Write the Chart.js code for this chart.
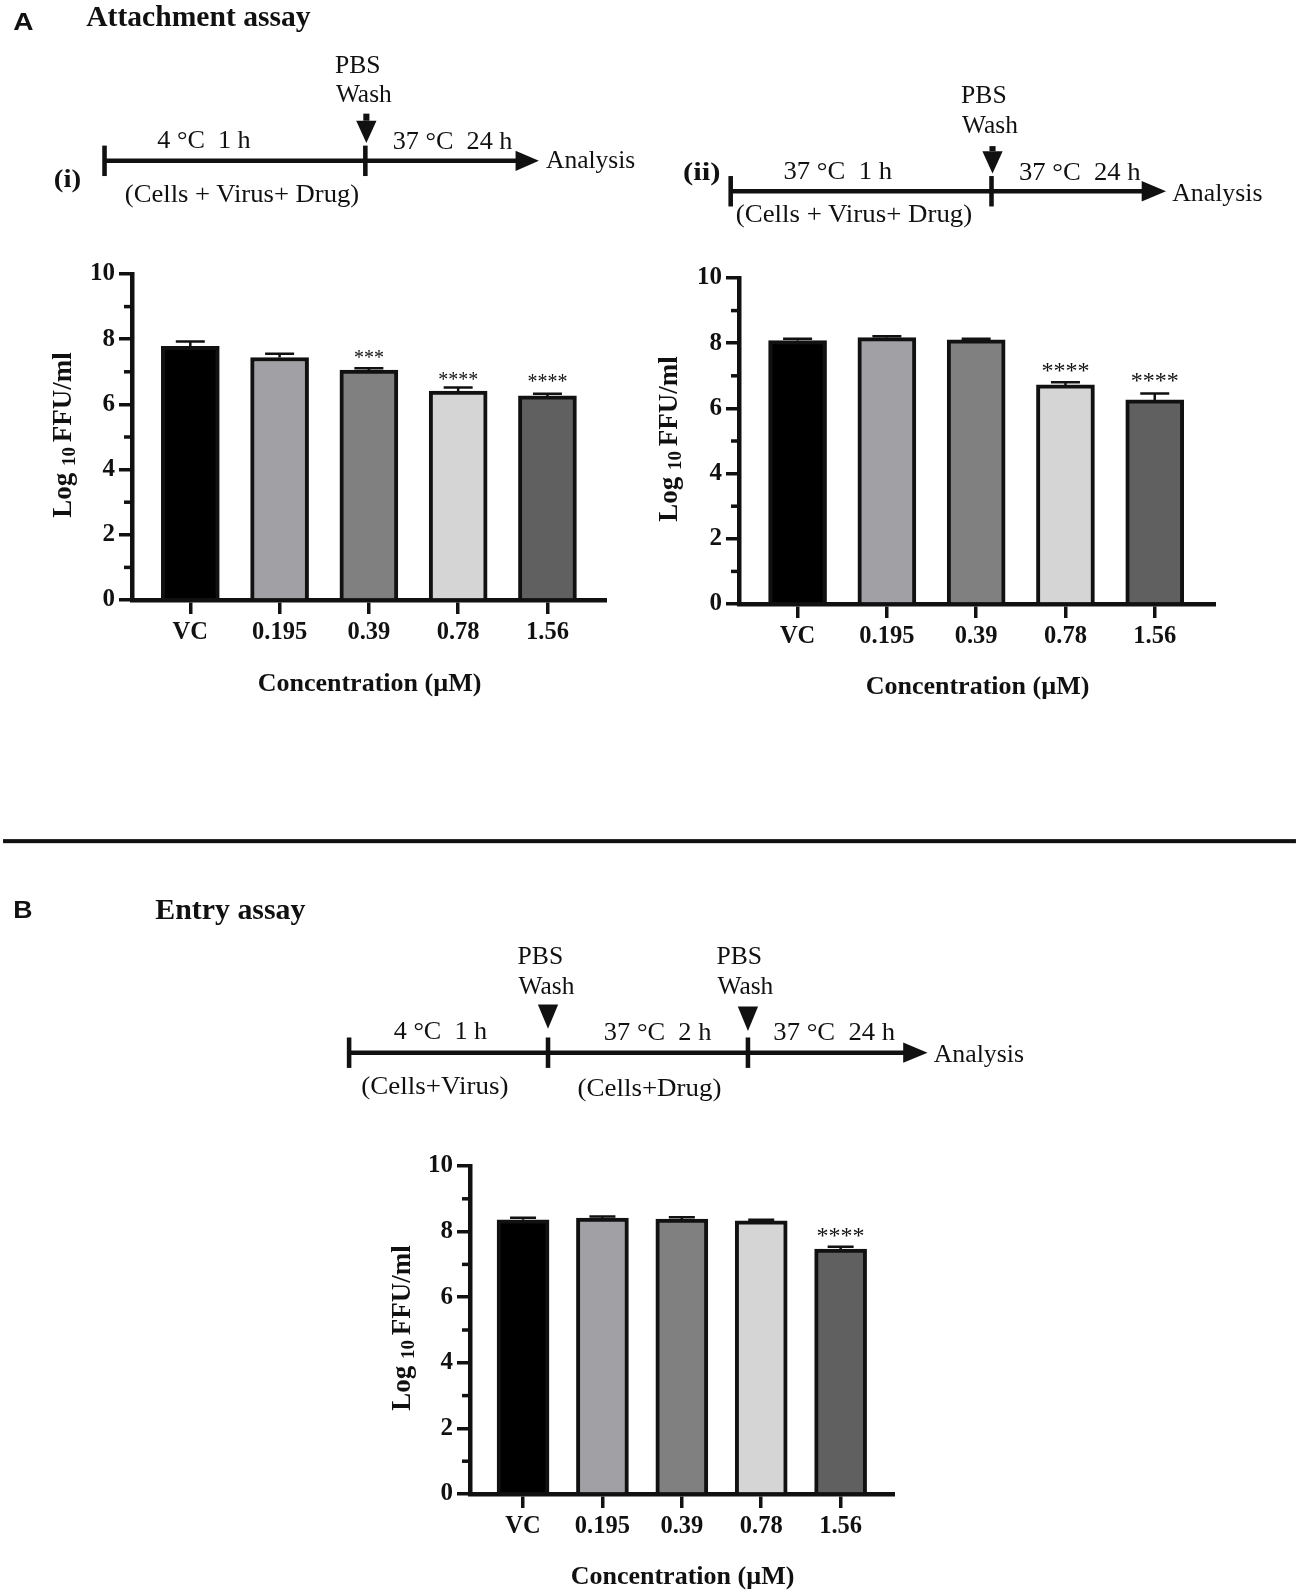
<!DOCTYPE html>
<html>
<head>
<meta charset="utf-8">
<title>Attachment and entry assay</title>
<script src="https://cdn.jsdelivr.net/npm/chart.js@4"></script>
<style>
  html, body { margin: 0; padding: 0; background: #fff; }
  body { position: relative; width: 1299px; height: 1593px; overflow: hidden; }
  canvas { position: absolute; }
  #notes { position: absolute; left: 0; top: 0; pointer-events: none; }
  #notes text { font-family: "Liberation Serif", serif; fill: #111; white-space: pre; }
</style>
</head>
<body>
<canvas id="chartI"></canvas>
<canvas id="chartII"></canvas>
<canvas id="chartB"></canvas>
<svg id="notes" width="1299" height="1593" viewBox="0 0 1280 1570" preserveAspectRatio="none"></svg>

<script>
// Data
const categories = ["VC", "0.195", "0.39", "0.78", "1.56"];
const barColors = ["#000000", "#a1a0a5", "#808080", "#d5d5d5", "#606060"];
const yMinorTicks = [1, 3, 5, 7, 9];

const valuesI = [7.78, 7.44, 7.05, 6.41, 6.26];
const errorTopI = [7.93, 7.55, 7.11, 6.52, 6.33];
const starsI = ["", "", "***", "****", "****"];
const starLevelI = [0, 0, 7.53, 6.86, 6.79];

const valuesII = [8.08, 8.17, 8.1, 6.72, 6.26];
const errorTopII = [8.14, 8.21, 8.14, 6.8, 6.46];
const starsII = ["", "", "", "****", "****"];
const starLevelII = [0, 0, 0, 7.28, 6.96];

const valuesB = [8.36, 8.41, 8.38, 8.33, 7.47];
const errorTopB = [8.42, 8.46, 8.44, 8.36, 7.54];
const starsB = ["", "", "", "", "****"];
const starLevelB = [0, 0, 0, 0, 8.0];

const SERIF = '"Liberation Serif", serif';

// Error bars, stars, minor ticks and the y title
const extras = {
  id: "extras",
  afterDatasetsDraw(chart, args, opts) {
    const { ctx, scales: { x, y } } = chart;
    ctx.save();
    ctx.strokeStyle = "#111";
    ctx.fillStyle = "#111";

    opts.errorTop.forEach((top, i) => {
      const px = x.getPixelForValue(i);
      const half = opts.barWidth / 4;
      ctx.lineWidth = 2.5;
      ctx.beginPath();
      ctx.moveTo(px, y.getPixelForValue(opts.values[i]));
      ctx.lineTo(px, y.getPixelForValue(top));
      ctx.moveTo(px - half, y.getPixelForValue(top));
      ctx.lineTo(px + half, y.getPixelForValue(top));
      ctx.stroke();
    });

    ctx.font = `${opts.starSize}px ${SERIF}`;
    ctx.textAlign = "center";
    ctx.textBaseline = "alphabetic";
    opts.stars.forEach((s, i) => {
      if (s) ctx.fillText(s, x.getPixelForValue(i), y.getPixelForValue(opts.starLevel[i]) + opts.starSize * 0.47);
    });

    ctx.lineWidth = 3.5;
    yMinorTicks.forEach((v) => {
      const py = y.getPixelForValue(v);
      ctx.beginPath();
      ctx.moveTo(chart.chartArea.left - 8, py);
      ctx.lineTo(chart.chartArea.left, py);
      ctx.stroke();
    });

    // y title has a subscript, so it is three runs of text
    const big = `bold 27px ${SERIF}`;
    const small = `bold 19px ${SERIF}`;
    const runs = [["Log ", big], ["10 ", small], ["FFU/ml", big]];
    let total = 0;
    runs.forEach((r) => { ctx.font = r[1]; total += ctx.measureText(r[0]).width; });
    ctx.translate(opts.titleX, (chart.chartArea.top + chart.chartArea.bottom) / 2 - 2);
    ctx.rotate(-Math.PI / 2);
    ctx.textAlign = "left";
    let pos = -total / 2;
    runs.forEach((r) => {
      ctx.font = r[1];
      ctx.fillText(r[0], pos, r[1] === small ? 13 : 9);
      pos += ctx.measureText(r[0]).width;
    });
    ctx.restore();
  },
};

function drawChart(id, c) {
  const el = document.getElementById(id);
  el.width = c.width;
  el.height = c.height;
  el.style.left = c.left + "px";
  el.style.top = c.top + "px";

  new Chart(el, {
    type: "bar",
    data: {
      datasets: [
        {
          data: c.values.map((v, i) => ({ x: i, y: v })),
          backgroundColor: barColors,
          borderColor: "#111",
          borderWidth: 4,
          barThickness: c.barWidth,
        },
      ],
    },
    plugins: [extras],
    options: {
      responsive: false,
      animation: false,
      layout: { padding: { top: 20 } },
      plugins: {
        legend: { display: false },
        tooltip: { enabled: false },
        extras: {
          values: c.values,
          errorTop: c.errorTop,
          stars: c.stars,
          starLevel: c.starLevel,
          starSize: c.starSize,
          barWidth: c.barWidth,
          titleX: c.titleX,
        },
      },
      scales: {
        x: {
          type: "linear",
          offset: false,
          min: c.xMin,
          max: c.xMax,
          afterFit: (s) => { s.height = c.xHeight; },
          border: { color: "#111", width: 4.5 },
          grid: { offset: false, drawOnChartArea: false, color: "#111", lineWidth: 3.5, tickLength: 14 },
          ticks: {
            stepSize: 1,
            includeBounds: false,
            maxRotation: 0,
            autoSkip: false,
            padding: 4,
            color: "#111",
            font: { family: SERIF, size: 24.5, weight: "bold" },
            callback: (v) => categories[v],
          },
          title: {
            display: true,
            text: "Concentration (µM)",
            color: "#111",
            padding: 0,
            font: { family: SERIF, size: 26, weight: "bold" },
          },
        },
        y: {
          min: 0,
          max: 10,
          afterFit: (s) => { s.width = c.axisX; },
          border: { color: "#111", width: 4.5 },
          grid: { drawOnChartArea: false, color: "#111", lineWidth: 3.5, tickLength: 13 },
          ticks: {
            stepSize: 2,
            padding: 4,
            color: "#111",
            font: { family: SERIF, size: 25, weight: "bold" },
          },
        },
      },
    },
  });
}

drawChart("chartI", {
  left: 40, top: 254, width: 567, height: 446, axisX: 92, titleX: 22, xHeight: 100,
  xMin: -0.653, xMax: 4.667, barWidth: 58, starSize: 20,
  values: valuesI, errorTop: errorTopI, stars: starsI, starLevel: starLevelI,
});
drawChart("chartII", {
  left: 650, top: 258, width: 566, height: 445, axisX: 89, titleX: 18, xHeight: 99,
  xMin: -0.656, xMax: 4.686, barWidth: 58, starSize: 24,
  values: valuesII, errorTop: errorTopII, stars: starsII, starLevel: starLevelII,
});
drawChart("chartB", {
  left: 380, top: 1146, width: 515, height: 447, axisX: 90, titleX: 21, xHeight: 99,
  xMin: -0.668, xMax: 4.685, barWidth: 52, starSize: 24,
  values: valuesB, errorTop: errorTopB, stars: starsB, starLevel: starLevelB,
});

// Panel labels and the timelines above the charts
const notes = document.getElementById("notes");
const NS = "http://www.w3.org/2000/svg";

function addEl(tag, attrs, text) {
  const n = document.createElementNS(NS, tag);
  Object.keys(attrs).forEach((k) => n.setAttribute(k, attrs[k]));
  if (text) n.textContent = text;
  notes.appendChild(n);
}

function label(text, x, y, width, size, weight, family) {
  addEl("text", {
    x, y, textLength: width, lengthAdjust: "spacingAndGlyphs",
    "font-size": size, "font-weight": weight || "normal",
    style: family ? `font-family:${family}` : "",
  }, text);
}

function timeline(lineY, x0, x1, tip, marks) {
  addEl("line", { x1: x0, y1: lineY, x2: x1, y2: lineY, stroke: "#111", "stroke-width": 4.5 });
  addEl("polygon", { points: `${x1 - 2},${lineY - 10} ${tip},${lineY} ${x1 - 2},${lineY + 10}`, fill: "#111" });
  [x0].concat(marks).forEach((m) => {
    addEl("line", { x1: m, y1: lineY - 15, x2: m, y2: lineY + 15, stroke: "#111", "stroke-width": 4.5 });
  });
}

function downArrow(x, top, neck, tipY) {
  if (neck > top) addEl("rect", { x: x - 3, y: top, width: 6, height: neck - top, fill: "#111" });
  addEl("polygon", { points: `${x - 10},${neck} ${x + 10},${neck} ${x},${tipY}`, fill: "#111" });
}

const SANS = '"Liberation Sans", sans-serif';

label("A", 13, 30, 20, 24, "bold", SANS);
label("Attachment assay", 85, 26, 221, 29, "bold");
label("B", 13, 905, 19, 24, "bold", SANS);
label("Entry assay", 153, 906, 148, 29, "bold");
addEl("rect", { x: 3, y: 827, width: 1274, height: 4, fill: "#111" });

// (i)
timeline(158.5, 103, 510, 531, [360]);
downArrow(361, 112, 119, 141);
label("PBS", 330, 72, 45, 25);
label("Wash", 331, 101, 55, 25);
label("4 °C  1 h", 155, 146, 92, 25);
label("37 °C  24 h", 387, 147, 118, 25);
label("Analysis", 538, 166, 88, 25);
label("(i)", 53, 184, 27, 25, "bold");
label("(Cells + Virus+ Drug)", 123, 199, 231, 25);

// (ii)
timeline(188.5, 720, 1127, 1149, [977]);
downArrow(978, 144, 149, 171);
label("PBS", 947, 102, 45, 25);
label("Wash", 948, 131, 55, 25);
label("37 °C  1 h", 772, 176, 107, 25);
label("37 °C  24 h", 1004, 177, 120, 25);
label("Analysis", 1155, 198, 89, 25);
label("(ii)", 673, 177, 37, 25, "bold");
label("(Cells + Virus+ Drug)", 725, 219, 233, 25);

// B
timeline(1037.5, 344, 892, 914, [540, 737]);
downArrow(540, 990, 990, 1014);
downArrow(737, 992, 992, 1016);
label("PBS", 510, 950, 45, 25);
label("Wash", 511, 980, 55, 25);
label("PBS", 706, 950, 45, 25);
label("Wash", 707, 980, 55, 25);
label("4 °C  1 h", 388, 1024, 92, 25);
label("37 °C  2 h", 595, 1025, 106, 25);
label("37 °C  24 h", 762, 1025, 120, 25);
label("Analysis", 920, 1047, 89, 25);
label("(Cells+Virus)", 356, 1078, 145, 25);
label("(Cells+Drug)", 569, 1080, 142, 25);
</script>
</body>
</html>
